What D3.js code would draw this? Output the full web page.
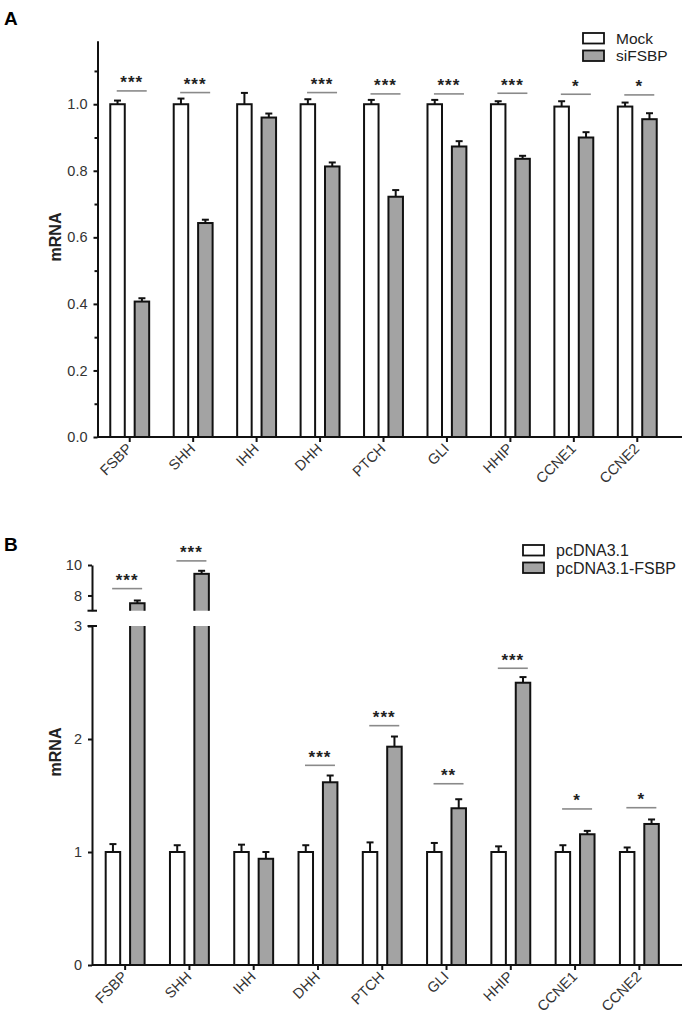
<!DOCTYPE html>
<html><head><meta charset="utf-8">
<script src="https://d3js.org/d3.v7.min.js"></script>
<style>body{margin:0;background:#fff}svg{display:block}</style>
</head><body>
<svg id="c" width="685" height="1026"></svg>
<script>
const categories = ["FSBP","SHH","IHH","DHH","PTCH","GLI","HHIP","CCNE1","CCNE2"];
// Panel A
const mockA    = [1.000,1.000,1.000,1.000,1.000,1.000,1.000,0.993,0.993];
const mockAErr = [0.011,0.017,0.034,0.015,0.013,0.013,0.009,0.016,0.012];
const siA      = [0.407,0.643,0.960,0.813,0.722,0.873,0.836,0.900,0.955];
const siAErr   = [0.010,0.010,0.012,0.012,0.020,0.016,0.009,0.016,0.018];
const sigA     = ["***","***","","***","***","***","***","*","*"];
const sigALevel= [1.040,1.035,null,1.035,1.031,1.031,1.033,1.030,1.028];
const ticksAMajor = [0,0.2,0.4,0.6,0.8,1.0];
const ticksAMinor = [0.1,0.3,0.5,0.7,0.9,1.1];
const legendA = ["Mock","siFSBP"];
// Panel B
const mockB    = [1,1,1,1,1,1,1,1,1];
const mockBErr = [0.07,0.06,0.065,0.06,0.085,0.08,0.05,0.06,0.04];
const fsbpB    = [7.49,9.42,0.94,1.617,1.932,1.387,2.498,1.157,1.248];
const fsbpBErr = [0.18,0.20,0.06,0.06,0.09,0.08,0.05,0.03,0.04];
const sigB     = ["***","***","","***","***","**","***","*","*"];
const sigBLevel= [8.45,10.27,null,1.767,2.118,1.604,2.626,1.381,1.392];
const ticksBLow = [0,1,2,3];
const ticksBUp  = [8,10];
const legendB = ["pcDNA3.1","pcDNA3.1-FSBP"];

const FONT = "'Liberation Sans', Arial, sans-serif";
const GRAY = "#a3a3a3";
const svg = d3.select("#c");
svg.append("rect").attr("width",685).attr("height",1026).attr("fill","#fff");

function styleAxis(g){
  g.selectAll("path,line").attr("stroke","#111").attr("stroke-width",2);
  g.selectAll("text").attr("font-family",FONT).attr("font-size",14.5).attr("fill","#333");
}
function drawBar(g, x, yTop, yBot, w, fill){
  g.append("rect").attr("x",x-w/2).attr("y",yTop).attr("width",w).attr("height",yBot-yTop)
   .attr("fill",fill).attr("stroke","#111").attr("stroke-width",2);
}
function drawErr(g, x, yTop, yVal){
  g.append("line").attr("x1",x).attr("x2",x).attr("y1",yTop).attr("y2",yVal).attr("stroke","#111").attr("stroke-width",2);
  g.append("line").attr("x1",x-3.5).attr("x2",x+3.5).attr("y1",yTop).attr("y2",yTop).attr("stroke","#111").attr("stroke-width",2);
}
function drawSig(g, xc, yLine, txt){
  g.append("line").attr("x1",xc-13).attr("x2",xc+17).attr("y1",yLine).attr("y2",yLine)
   .attr("stroke","#8a8a8a").attr("stroke-width",1.6);
  g.append("text").attr("x",xc+2).attr("y",yLine-2.5).attr("text-anchor","middle")
   .attr("font-family",FONT).attr("font-size",17).attr("font-weight","bold").attr("letter-spacing",1).attr("fill","#222").text(txt);
}
function rotLabels(g){
  g.selectAll(".tick text").attr("x",0).attr("y",0).attr("dy",null)
   .attr("transform","translate(3,12.5) rotate(-45)").attr("text-anchor","end").attr("font-size",14.5);
}
function legend(g, x, y, labels, fs){
  labels.forEach((t,i)=>{
    g.append("rect").attr("x",x).attr("y",y+i*17.5).attr("width",21).attr("height",10.5)
     .attr("fill",i===0?"#fff":GRAY).attr("stroke","#111").attr("stroke-width",1.8);
    g.append("text").attr("x",x+33).attr("y",y+i*17.5+5.5).attr("dy","0.35em")
     .attr("font-family",FONT).attr("font-size",fs).attr("fill","#222").text(t);
  });
}
const BW = 14.5, OFF = 12.2;

// ---------- Panel A ----------
const gA = svg.append("g");
const xA = d3.scaleBand().domain(categories).range([98,669]);
const yA = d3.scaleLinear().domain([0,1.19]).range([437,41]);
const cA = d => xA(d)+xA.bandwidth()/2;
gA.append("text").attr("x",4).attr("y",25).attr("font-family",FONT).attr("font-weight","bold").attr("font-size",19).text("A");
gA.append("g").attr("transform","translate(97.5,0)")
  .call(d3.axisLeft(yA).tickValues(ticksAMinor).tickSize(3).tickFormat("").tickSizeOuter(0)).call(styleAxis);
gA.append("g").attr("transform","translate(97.5,0)")
  .call(d3.axisLeft(yA).tickValues(ticksAMajor).tickSize(4).tickPadding(6).tickFormat(d3.format(".1f")).tickSizeOuter(0)).call(styleAxis);
const xaA = gA.append("g").attr("transform","translate(0,437)")
  .call(d3.axisBottom(xA).tickSize(5).tickSizeOuter(0)).call(styleAxis).call(rotLabels);
xaA.select(".domain").remove();
gA.append("line").attr("x1",97.5).attr("x2",682).attr("y1",437).attr("y2",437).attr("stroke","#111").attr("stroke-width",2);
gA.append("text").attr("transform","translate(61,237) rotate(-90)").attr("text-anchor","middle")
  .attr("font-family",FONT).attr("font-weight","bold").attr("font-size",16).attr("fill","#222").text("mRNA");
categories.forEach((c,i)=>{
  const xc = cA(c);
  drawErr(gA, xc-OFF, yA(mockA[i]+mockAErr[i]), yA(mockA[i]));
  drawBar(gA, xc-OFF, yA(mockA[i]), yA(0), BW, "#fff");
  drawErr(gA, xc+OFF, yA(siA[i]+siAErr[i]), yA(siA[i]));
  drawBar(gA, xc+OFF, yA(siA[i]), yA(0), BW, GRAY);
  if (sigA[i]) drawSig(gA, xc, yA(sigALevel[i]), sigA[i]);
});
legend(gA, 583, 33, legendA, 15.5);

// ---------- Panel B ----------
const gB = svg.append("g");
const xB = d3.scaleBand().domain(categories).range([93,671.5]);
const yBLow = d3.scaleLinear().domain([0,3]).range([965,626]);
const yBUp  = d3.scaleLinear().domain([7,10]).range([610.7,565]);
const cB = d => xB(d)+xB.bandwidth()/2;
const AXB = 92;
gB.append("text").attr("x",4).attr("y",551).attr("font-family",FONT).attr("font-weight","bold").attr("font-size",19).text("B");
gB.append("g").attr("transform",`translate(${AXB},0)`)
  .call(d3.axisLeft(yBLow).tickValues(ticksBLow).tickSize(4).tickPadding(6).tickFormat(d3.format("d")).tickSizeOuter(0)).call(styleAxis);
gB.append("g").attr("transform",`translate(${AXB},0)`)
  .call(d3.axisLeft(yBUp).tickValues(ticksBUp).tickSize(4).tickPadding(6).tickFormat(d3.format("d")).tickSizeOuter(0)).call(styleAxis);
// break caps
gB.append("line").attr("x1",AXB-4.5).attr("x2",AXB+5).attr("y1",yBUp(7)).attr("y2",yBUp(7)).attr("stroke","#111").attr("stroke-width",2);
gB.append("line").attr("x1",AXB-4.5).attr("x2",AXB+5).attr("y1",yBLow(3)).attr("y2",yBLow(3)).attr("stroke","#111").attr("stroke-width",2);
const xaB = gB.append("g").attr("transform","translate(0,965)")
  .call(d3.axisBottom(xB).tickSize(5).tickSizeOuter(0)).call(styleAxis).call(rotLabels);
xaB.select(".domain").remove();
gB.append("line").attr("x1",AXB).attr("x2",682).attr("y1",965).attr("y2",965).attr("stroke","#111").attr("stroke-width",2);
gB.append("text").attr("transform","translate(61,752) rotate(-90)").attr("text-anchor","middle")
  .attr("font-family",FONT).attr("font-weight","bold").attr("font-size",16).attr("fill","#222").text("mRNA");

const defs = svg.append("defs");
defs.append("clipPath").attr("id","clipUp").append("rect").attr("x",0).attr("y",0).attr("width",685).attr("height",yBUp(7));
defs.append("clipPath").attr("id","clipLow").append("rect").attr("x",0).attr("y",yBLow(3)).attr("width",685).attr("height",1026-yBLow(3));
const gUp = gB.append("g").attr("clip-path","url(#clipUp)");
const gLow = gB.append("g").attr("clip-path","url(#clipLow)");

categories.forEach((c,i)=>{
  const xc = cB(c);
  drawErr(gB, xc-OFF, yBLow(mockB[i]+mockBErr[i]), yBLow(mockB[i]));
  drawBar(gB, xc-OFF, yBLow(mockB[i]), yBLow(0), BW, "#fff");
  const v = fsbpB[i], e = fsbpBErr[i];
  if (v > 3) {
    drawErr(gB, xc+OFF, yBUp(v+e), yBUp(v));
    drawBar(gUp, xc+OFF, yBUp(v), yBUp(7)+10, BW, GRAY);
    drawBar(gLow, xc+OFF, yBLow(3)-10, yBLow(0), BW, GRAY);
  } else {
    drawErr(gB, xc+OFF, yBLow(v+e), yBLow(v));
    drawBar(gB, xc+OFF, yBLow(v), yBLow(0), BW, GRAY);
  }
  if (sigB[i]) {
    const L = sigBLevel[i];
    drawSig(gB, xc, L > 3 ? yBUp(L) : yBLow(L), sigB[i]);
  }
});
legend(gB, 523, 545, legendB, 16);
</script>
</body></html>
